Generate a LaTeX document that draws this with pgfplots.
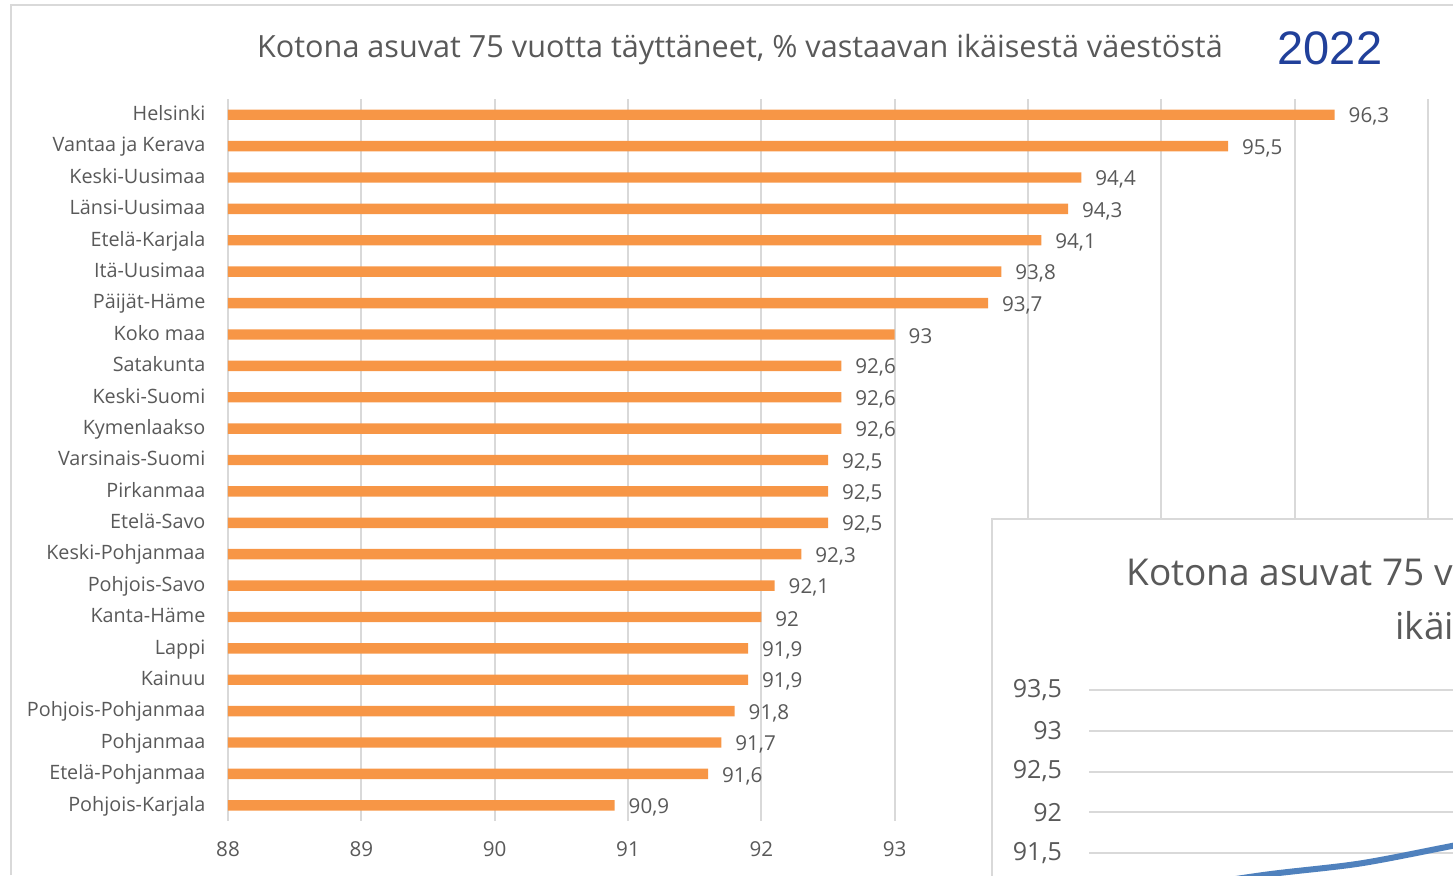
\documentclass[border=0pt]{standalone}
\usepackage{fontspec}
\setmainfont{Open Sans}
\newfontfamily\arialfont{Liberation Sans}
\usepackage{pgfplots}
\pgfplotsset{compat=1.18}
\definecolor{barorange}{HTML}{F79646}
\definecolor{txtgray}{HTML}{595959}
\definecolor{gridgray}{HTML}{D9D9D9}
\definecolor{yearblue}{HTML}{21409A}
\definecolor{lineblue}{HTML}{4F81BD}

\begin{document}
\begin{tikzpicture}
% picture area = 1453 x 875 px, 1 px = 0.5pt
\path[use as bounding box, clip] (0,0) rectangle (726.5pt,-437.5pt);

% outer frame of the screenshot
\draw[gridgray, line width=1pt] (5.5pt,-437.5pt) -- (5.5pt,-2.5pt) -- (730pt,-2.5pt);

\node[txtgray, font=\fontsize{15.3}{18}\selectfont] at (370pt,-25pt)
  {Kotona asuvat 75 vuotta täyttäneet, \% vastaavan ikäisestä väestöstä};
\node[yearblue, font=\arialfont\fontsize{23.5}{28}\selectfont] at (665pt,-24pt) {2022};

\begin{axis}[
    at={(114pt,-410.5pt)}, anchor=south west,
    scale only axis,
    width=666.67pt, height=361pt,
    xbar, bar width=5.2pt,
    xmin=88, xmax=98,
    ymin=-0.5, ymax=22.5,
    y dir=reverse,
    xtick={88,89,...,97},
    xticklabels={88,89,90,91,92,93,,,,},
    xmajorgrids,
    grid style={gridgray, line width=1pt},
    axis line style={draw=none},
    major tick style={draw=none},
    ytick={0,...,22},
    yticklabels={Helsinki, Vantaa ja Kerava, Keski-Uusimaa, Länsi-Uusimaa,
      Etelä-Karjala, Itä-Uusimaa, Päijät-Häme, Koko maa, Satakunta,
      Keski-Suomi, Kymenlaakso, Varsinais-Suomi, Pirkanmaa, Etelä-Savo,
      Keski-Pohjanmaa, Pohjois-Savo, Kanta-Häme, Lappi, Kainuu,
      Pohjois-Pohjanmaa, Pohjanmaa, Etelä-Pohjanmaa, Pohjois-Karjala},
    typeset ticklabels with strut,
    /pgf/number format/assume math mode=true,
    tick label style={txtgray, font=\fontsize{10.3}{12}\selectfont},
    xticklabel style={yshift=-6pt},
    yticklabel style={xshift=-3.5pt, yshift=-0.5pt, font=\fontsize{9.9}{12}\selectfont},
    point meta=x,
    nodes near coords={\pgfmathprintnumber[fixed,precision=1,use comma,assume math mode=true]{\pgfplotspointmeta}},
    nodes near coords style={txtgray, font=\fontsize{10.3}{12}\selectfont, anchor=west, xshift=3.5pt, yshift=-1pt},
]
\addplot[fill=barorange, draw=none] coordinates {
    (96.3,0) (95.5,1) (94.4,2) (94.3,3) (94.1,4) (93.8,5) (93.7,6)
    (93,7) (92.6,8) (92.6,9) (92.6,10) (92.5,11) (92.5,12) (92.5,13)
    (92.3,14) (92.1,15) (92,16) (91.9,17) (91.9,18) (91.8,19)
    (91.7,20) (91.6,21) (90.9,22)
};
\end{axis}

% inset chart pasted over the lower right corner
\draw[gridgray, fill=white, line width=1pt] (496pt,-259.5pt) rectangle (760pt,-460pt);
\node[txtgray, font=\fontsize{18.5}{22}\selectfont, anchor=west, inner sep=0pt] at (563pt,-288pt)
  {Kotona asuvat 75 vuotta täyttäneet, \% vastaavan};
\node[txtgray, font=\fontsize{18.5}{22}\selectfont, anchor=west, inner sep=0pt] at (697.5pt,-313pt)
  {ikäisestä väestöstä};

\begin{axis}[
    at={(544.5pt,-446.9pt)}, anchor=south west,
    scale only axis,
    width=450pt, height=101.9pt,
    xmin=0, xmax=10,
    ymin=91, ymax=93.5,
    ytick={91.5,92,...,93.5},
    xtick=\empty,
    ymajorgrids,
    grid style={gridgray, line width=1pt},
    axis line style={draw=none},
    major tick style={draw=none},
    /pgf/number format/assume math mode=true,
    /pgf/number format/use comma,
    yticklabel style={txtgray, font=\fontsize{12.5}{15}\selectfont, xshift=-10pt},
]
\addplot[lineblue, line width=3pt, smooth] coordinates {
    (0,90.95) (1,91.08) (2,91.24) (3,91.37) (4,91.58) (5,91.8)
};
\end{axis}
\end{tikzpicture}
\end{document}
